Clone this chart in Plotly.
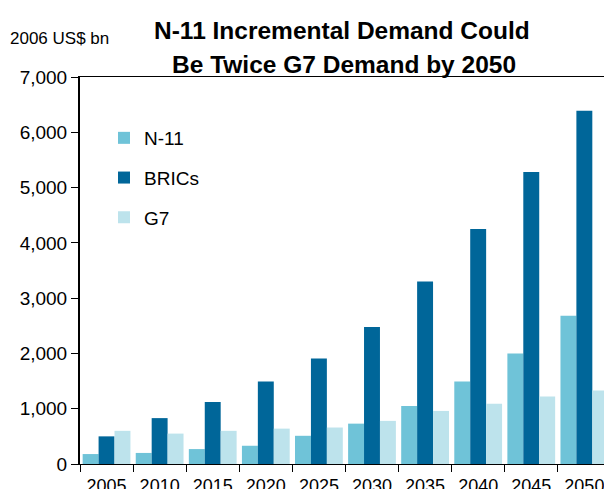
import plotly.graph_objects as go

years = ["2005", "2010", "2015", "2020", "2025", "2030", "2035", "2040", "2045", "2050"]
n11 = [180, 200, 270, 330, 510, 730, 1050, 1490, 2000, 2680]
brics = [500, 830, 1120, 1490, 1910, 2480, 3300, 4250, 5280, 6390]
g7 = [600, 550, 600, 640, 660, 780, 960, 1090, 1220, 1330]

series = [
    ("N-11", n11, "#6FC3D8"),
    ("BRICs", brics, "#006699"),
    ("G7", g7, "#BDE3EC"),
]

font = "Liberation Sans, Arial, sans-serif"
W, H = 604, 489
L, R, T, B = 80, 0, 77, 25


def px_x(x):
    return (x - L) / (W - L - R)


def px_y(y):
    # y in page pixels, from the top
    return (H - B - y) / (H - T - B)


fig = go.Figure()
for name, vals, color in series:
    fig.add_trace(go.Bar(x=years, y=vals, name=name, marker_color=color,
                         marker_line_width=0, legendgroup=name))

fig.update_layout(
    width=W, height=H,
    margin=dict(l=L, r=R, t=T, b=B),
    paper_bgcolor="white", plot_bgcolor="white",
    font=dict(family=font, color="black", size=18),
    barmode="group", bargap=0.1, bargroupgap=0,
    showlegend=True,
    legend=dict(x=px_x(104), y=px_y(119), xanchor="left", yanchor="top",
                font=dict(size=19), tracegroupgap=12, itemwidth=30,
                bgcolor="rgba(0,0,0,0)"),
    annotations=[
        dict(text="<b>N-11 Incremental Demand Could</b>", x=px_x(342), y=px_y(30),
             xanchor="center", yanchor="middle", font=dict(size=24.5)),
        dict(text="<b>Be Twice G7 Demand by 2050</b>", x=px_x(344), y=px_y(64),
             xanchor="center", yanchor="middle", font=dict(size=24.5)),
        dict(text="2006 US$ bn", x=px_x(8), y=px_y(38), xanchor="left",
             yanchor="middle", font=dict(size=17)),
    ],
)
fig.update_annotations(xref="paper", yref="paper", showarrow=False)

fig.update_xaxes(range=[-0.5, 9.37], showline=True, linecolor="black",
                 linewidth=1, mirror=True, ticks="outside", tickson="boundaries",
                 ticklen=7, tickcolor="black", showgrid=False, automargin=False,
                 ticklabelstandoff=5, tickfont=dict(size=18))
fig.update_yaxes(range=[0, 7000], dtick=1000, tickformat=",", showline=True,
                 linecolor="black", linewidth=2, ticks="outside", ticklen=7,
                 tickcolor="black", showgrid=False, zeroline=False,
                 automargin=False, tickfont=dict(size=19))

# drop the default body margin so the figure fills the window exactly
fig.write_html("out.html", config={"displayModeBar": False},
               post_script="document.body.style.margin='0';"
                           "document.body.style.overflow='hidden';")
